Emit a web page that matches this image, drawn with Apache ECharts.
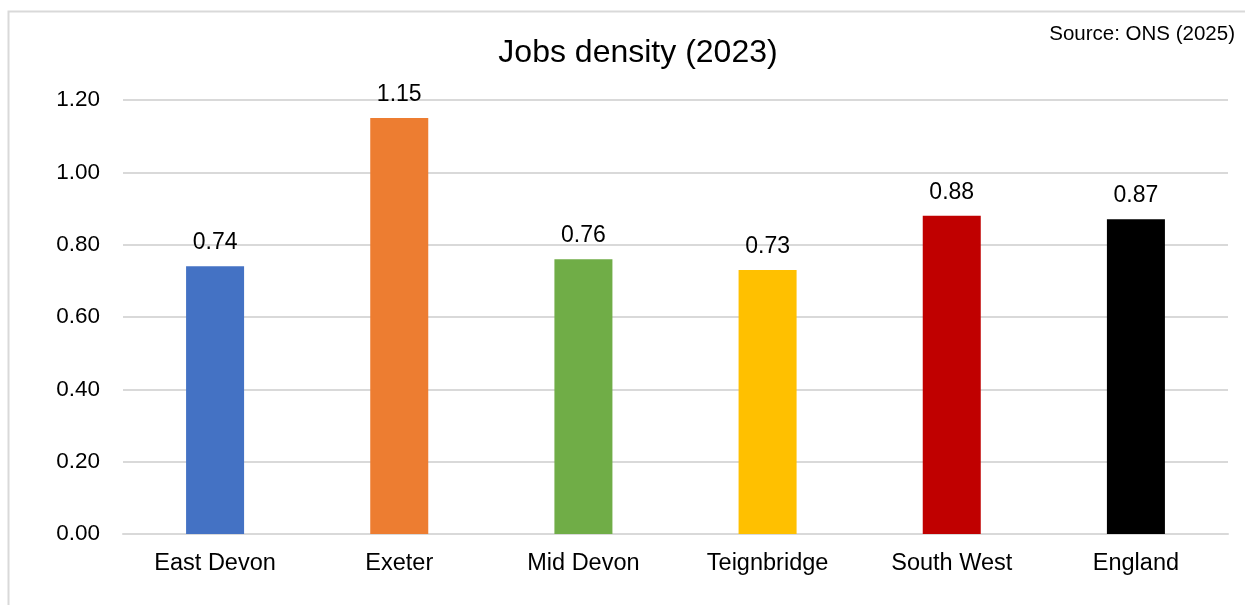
<!DOCTYPE html>
<html>
<head>
<meta charset="utf-8">
<script src="https://cdn.jsdelivr.net/npm/echarts@6/dist/echarts.min.js"></script>
<style>
  html, body { margin: 0; padding: 0; background: #fff; }
  #chart { width: 1245px; height: 605px; }
</style>
</head>
<body>
<div id="chart"></div>
<script>
var areas = ['East Devon', 'Exeter', 'Mid Devon', 'Teignbridge', 'South West', 'England'];
var density = [0.74, 1.15, 0.76, 0.73, 0.88, 0.87];
var barColours = ['#4472C4', '#ED7D31', '#70AD47', '#FFC000', '#C00000', '#000000'];

var chart = echarts.init(document.getElementById('chart'));
var font = 'Arial, "Liberation Sans", sans-serif';

var option = {
    backgroundColor: '#fff',
    animation: false,
    textStyle: { fontFamily: font },
    graphic: [
        {
            type: 'rect',
            shape: { x: 8.5, y: 11.5, width: 1260, height: 620 },
            style: { fill: 'none', stroke: '#D9D9D9', lineWidth: 2 },
            silent: true
        },
        {
            type: 'text',
            right: 10,
            top: 24,
            style: { text: 'Source: ONS (2025)', font: '20.5px ' + font, fill: '#000' }
        }
    ],
    title: {
        text: 'Jobs density (2023)',
        left: 633,
        textAlign: 'center',
        top: 32,
        textStyle: { fontFamily: font, fontSize: 32, fontWeight: 'normal', color: '#000' }
    },
    grid: { left: 123, right: 17, top: 100, bottom: 71, containLabel: false },
    xAxis: {
        type: 'category',
        data: areas,
        axisTick: { show: false },
        axisLine: { lineStyle: { color: '#D9D9D9', width: 2 } },
        axisLabel: { color: '#000', fontSize: 23.5, fontFamily: font, margin: 18 }
    },
    yAxis: {
        type: 'value',
        min: 0,
        max: 1.2,
        interval: 0.2,
        axisLine: { show: false },
        axisTick: { show: false },
        splitLine: { lineStyle: { color: '#D9D9D9', width: 2 } },
        axisLabel: {
            color: '#000', fontSize: 22.5, fontFamily: font, margin: 23,
            formatter: function (v) { return v.toFixed(2); }
        }
    },
    series: [{
        type: 'bar',
        barWidth: '31.5%',
        data: density.map(function (v, i) {
            return { value: v, itemStyle: { color: barColours[i] } };
        }),
        label: {
            show: true,
            position: 'top',
            distance: 12,
            color: '#000',
            fontSize: 23,
            fontFamily: font,
            formatter: function (p) { return p.value.toFixed(2); }
        }
    }]
};

chart.setOption(option);
</script>
</body>
</html>
